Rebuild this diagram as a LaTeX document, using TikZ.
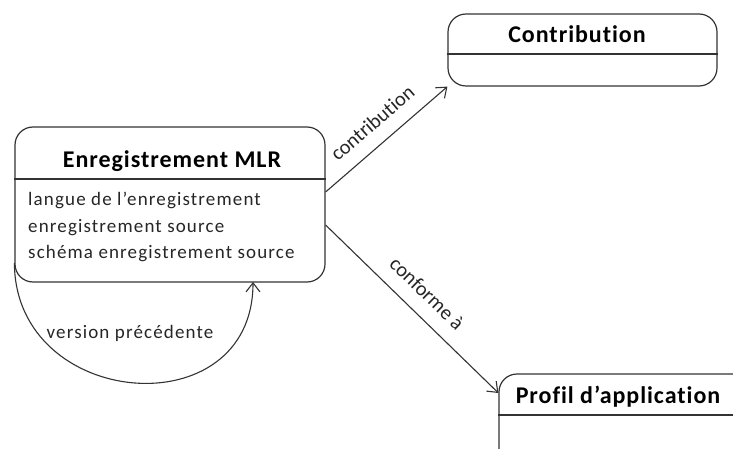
\documentclass[tikz,border=0pt]{standalone}
\usepackage{fontspec}
\setmainfont{Carlito}
\newfontfamily\spacedfont[LetterSpace=6,Ligatures=NoCommon]{Carlito}
\newfontfamily\titlefont[LetterSpace=4,Ligatures=NoCommon]{Carlito}
\newfontfamily\plainfont[Ligatures=NoCommon]{Carlito}
\usetikzlibrary{arrows.meta}
\begin{document}
\begin{tikzpicture}[x=1pt,y=-1pt,
  box/.style={draw=black!80, line width=1.2pt, rounded corners=18pt, inner sep=0pt},
  ttl/.style={font=\titlefont\fontsize{24}{28}\selectfont\bfseries, inner sep=0pt, anchor=base},
  body/.style={font=\spacedfont\fontsize{19}{26}\selectfont, inner sep=0pt, text=black!85, anchor=base west},
  lbl/.style={font=\spacedfont\fontsize{19}{23}\selectfont, inner sep=0pt, text=black!85},
  slbl/.style={font=\plainfont\fontsize{20.5}{24}\selectfont, inner sep=0pt, text=black!85, sloped, above=14pt},
  conn/.style={draw=black!80, line width=1.1pt, -{Straight Barb[length=9pt,width=14pt,line width=1.1pt]}}]
\useasboundingbox (0,0) rectangle (733,449);
\begin{scope}
\clip (0,0) rectangle (733,449);
% Enregistrement MLR
\node[box, minimum width=310pt, minimum height=155pt] (mlr) at (170,204.5) {};
\node[ttl] (mlrt) at (172,168) {Enregistrement MLR};
\draw[black!80, line width=1.2pt] (mlr.west |- 0,179) -- (mlr.east |- 0,179);
\node[body] (mlra) at (28,205) {langue de l’enregistrement};
\node[body] (mlrb) at (28,232) {enregistrement source};
\node[body] (mlrc) at (28,258) {schéma enregistrement source};
% Contribution
\node[box, minimum width=269pt, minimum height=72pt] (contrib) at (582.5,50) {};
\node[ttl] (contribt) at (577,43) {Contribution};
\draw[black!80, line width=1.2pt] (contrib.west |- 0,54) -- (contrib.east |- 0,54);
% Profil d'application
\node[box, minimum width=280pt, minimum height=120pt] (prof) at (639,434) {};
\node[ttl] (proft) at (618,403) {Profil d’application};
\draw[black!80, line width=1.2pt] (prof.west |- 0,415) -- (prof.east |- 0,415);
\end{scope}
% connectors
\draw[conn] (mlr.east |- 0,192) -- node[slbl] (lc) {contribution} (contrib.south west);
\draw[conn] (mlr.east |- 0,225) -- node[slbl] (lf) {conforme à} (prof.west |- 0,393);
\coordinate (loopend) at (253,282);
\draw[conn] (mlr.west |- 0,263) .. controls (15,410) and (253,429) .. (loopend);
\node[lbl, anchor=base] (vp) at (130,338) {version précédente};
\end{tikzpicture}
\end{document}
